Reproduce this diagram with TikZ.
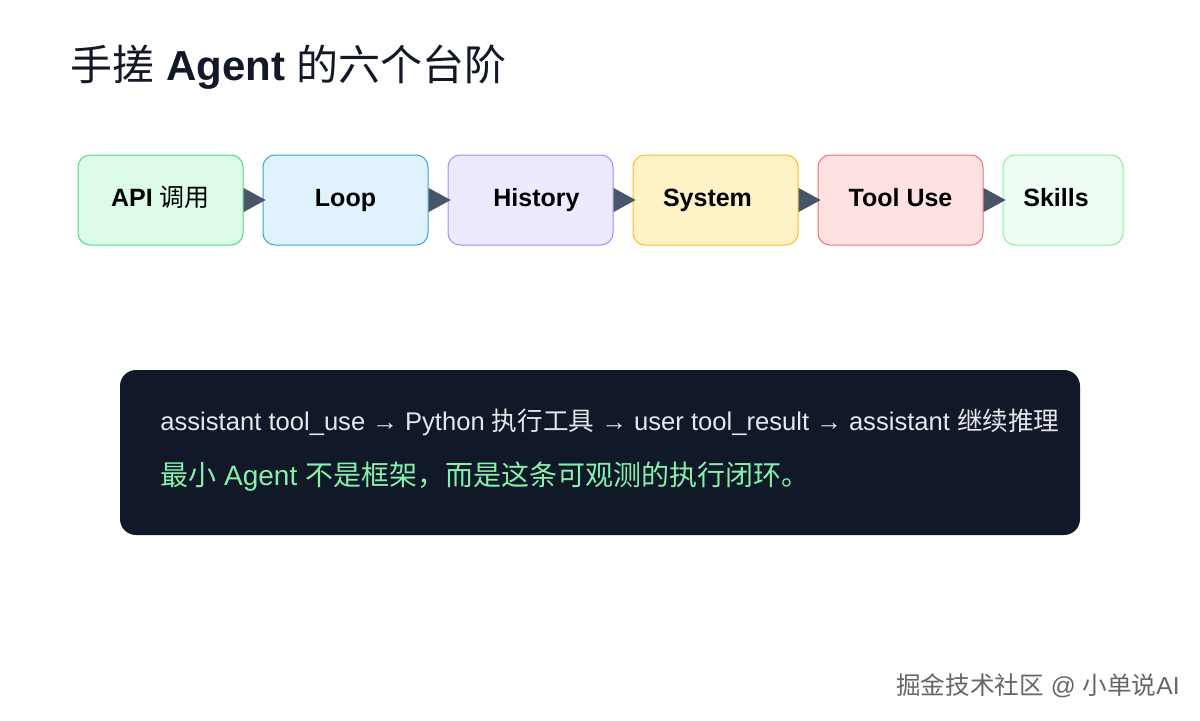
\documentclass[tikz,border=0pt]{standalone}
\usepackage{fontspec}
\setmainfont{Liberation Sans}
\newfontfamily\cjk{Noto Sans CJK SC}
\usetikzlibrary{arrows.meta}
\definecolor{arrowgray}{HTML}{475569}
\definecolor{panel}{HTML}{111827}
\definecolor{codegray}{HTML}{E5E7EB}
\definecolor{notegreen}{HTML}{86EFAC}
\definecolor{apifill}{HTML}{DCFCE7}\definecolor{apiline}{HTML}{4ADE80}
\definecolor{loopfill}{HTML}{E0F2FE}\definecolor{loopline}{HTML}{38A5D8}
\definecolor{histfill}{HTML}{EDE9FE}\definecolor{histline}{HTML}{A78BFA}
\definecolor{sysfill}{HTML}{FEF3C7}\definecolor{sysline}{HTML}{FBBF24}
\definecolor{toolfill}{HTML}{FEE2E2}\definecolor{toolline}{HTML}{F87171}
\definecolor{skillfill}{HTML}{F0FDF4}\definecolor{skillline}{HTML}{86EFAC}
\tikzset{
  stepbox/.style = {draw, rounded corners=6pt, line width=0.5pt, minimum height=45pt,
    text height=9pt, text depth=2.5pt, font=\fontsize{12.5}{14}\selectfont\bfseries},
  link/.style = {draw=arrowgray, line width=0.1pt, shorten >=-1.5pt,
    -{Triangle[length=11pt, width=12pt, fill=arrowgray]}}
}
\begin{document}
\begin{tikzpicture}[x=0.5pt, y=-0.5pt]
\useasboundingbox[fill=white] (0, 0) rectangle (1200, 720);
\node (title) [anchor=base west, inner sep=0pt, text=panel, font=\fontsize{21}{24}\selectfont] at (70, 80)
  {{\cjk 手搓} \textbf{Agent} {\cjk 的六个台阶}};
% the six steps
\node (api) [stepbox, fill=apifill, draw=apiline, minimum width=82.5pt] at (160.5, 200) {API {\cjk\mdseries 调用}};
\node (loop) [stepbox, fill=loopfill, draw=loopline, minimum width=82.5pt] at (345.5, 200) {Loop};
\node (hist) [stepbox, fill=histfill, draw=histline, minimum width=82.5pt] at (530.5, 200) {\kern6pt History};
\node (sys) [stepbox, fill=sysfill, draw=sysline, minimum width=82.5pt] at (715.5, 200) {System\kern8pt};
\node (tool) [stepbox, fill=toolfill, draw=toolline, minimum width=82.5pt] at (900.5, 200) {Tool Use};
\node (skill) [stepbox, fill=skillfill, draw=skillline, minimum width=60pt] at (1063, 200) {Skills\kern7pt};
\foreach \a/\b in {api/loop, loop/hist, hist/sys, sys/tool, tool/skill}
  \draw[link] (\a.east) -- (\b.west);
% summary panel
\fill[panel, rounded corners=8pt] (120, 370) rectangle (1080, 535);
\node (flow) [anchor=base west, inner sep=0pt, text=codegray, font=\fontsize{12.8}{14}\selectfont] at (160, 430)
  {assistant tool\_use → Python {\cjk 执行工具} → user tool\_result → assistant {\cjk 继续推理}};
\node (note) [anchor=base west, inner sep=0pt, text=notegreen, font=\fontsize{14}{16}\selectfont] at (160, 485)
  {{\cjk 最小} Agent {\cjk 不是框架，而是这条可观测的执行闭环。}};
\node (credit) [anchor=base east, inner sep=0pt, text=black!60, font=\fontsize{12.3}{14}\selectfont] at (1180, 694)
  {{\cjk 掘金技术社区} @ {\cjk 小单说}AI};
\end{tikzpicture}
\end{document}
